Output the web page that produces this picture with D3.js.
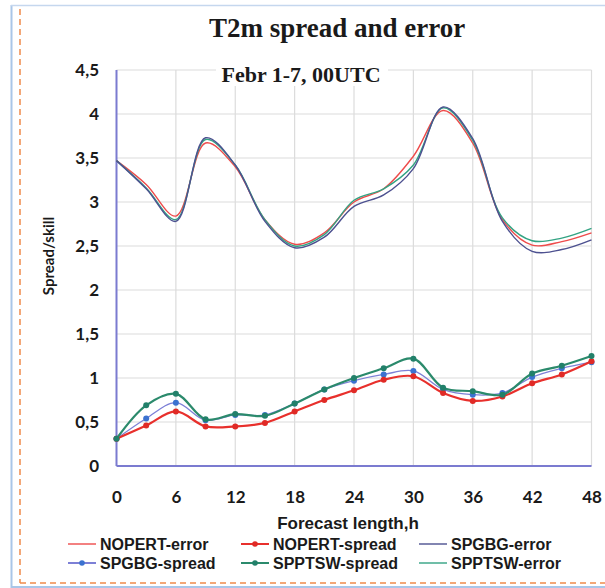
<!DOCTYPE html>
<meta charset="utf-8">
<script src="https://d3js.org/d3.v7.min.js"></script>
<style>
  body { margin: 0; background: #fff; }
  svg text { font-family: Lato, 'Liberation Sans', sans-serif; font-weight: bold; fill: #1a1a1a; }
  .serif { font-family: 'Liberation Serif', 'DejaVu Serif', serif !important; }
  .legend { font-family: 'Liberation Sans', Arial, sans-serif !important; }
</style>
<div id="chart"></div>
<script>

// forecast hours (every 3 h)
var hours = [0, 3, 6, 9, 12, 15, 18, 21, 24, 27, 30, 33, 36, 39, 42, 45, 48];

// error curves
var nopertError = [3.47, 3.20, 2.84, 3.67, 3.40, 2.80, 2.52, 2.65, 3.00, 3.15, 3.52, 4.04, 3.67, 2.80, 2.51, 2.55, 2.65];
var spgbgError  = [3.47, 3.15, 2.78, 3.73, 3.42, 2.78, 2.48, 2.60, 2.95, 3.08, 3.38, 4.08, 3.72, 2.78, 2.44, 2.46, 2.57];
var spptswError = [3.47, 3.16, 2.80, 3.71, 3.42, 2.80, 2.50, 2.63, 3.02, 3.15, 3.42, 4.07, 3.70, 2.82, 2.56, 2.59, 2.70];

// spread curves
var nopertSpread = [0.31, 0.46, 0.62, 0.45, 0.45, 0.49, 0.62, 0.75, 0.86, 0.98, 1.02, 0.83, 0.74, 0.79, 0.94, 1.04, 1.19];
var spgbgSpread  = [0.31, 0.54, 0.72, 0.52, 0.58, 0.58, 0.71, 0.87, 0.97, 1.04, 1.08, 0.87, 0.81, 0.83, 1.01, 1.11, 1.18];
var spptswSpread = [0.31, 0.69, 0.82, 0.53, 0.59, 0.57, 0.71, 0.87, 1.00, 1.11, 1.22, 0.89, 0.85, 0.81, 1.05, 1.14, 1.25];

var xTicks = [0, 6, 12, 18, 24, 30, 36, 42, 48];
var yTicks = [0, 0.5, 1, 1.5, 2, 2.5, 3, 3.5, 4, 4.5];
var yTickLabels = ["0", "0,5", "1", "1,5", "2", "2,5", "3", "3,5", "4", "4,5"];

var W = 605, H = 588;

var svg = d3.select("#chart")
  .append("svg")
    .attr("width", W)
    .attr("height", H);

// outer frame: blue border and orange dashed border
svg.append("line").attr("x1", 11.5).attr("x2", 11.5).attr("y1", 5).attr("y2", 588)
  .attr("stroke", "#a9c6e8").attr("stroke-width", 2);
svg.append("line").attr("x1", 11).attr("x2", 605).attr("y1", 5.5).attr("y2", 5.5)
  .attr("stroke", "#c5d7ee").attr("stroke-width", 1.5);
svg.append("line").attr("x1", 11).attr("x2", 605).attr("y1", 587).attr("y2", 587)
  .attr("stroke", "#a9c6e8").attr("stroke-width", 2);
svg.append("line").attr("x1", 20).attr("x2", 20).attr("y1", 9).attr("y2", 583)
  .attr("stroke", "#f08a4b").attr("stroke-width", 1.5).style("stroke-dasharray", "6,4");
svg.append("line").attr("x1", 20).attr("x2", 605).attr("y1", 583).attr("y2", 583)
  .attr("stroke", "#f08a4b").attr("stroke-width", 1.5).style("stroke-dasharray", "6,4");

// scales
var x = d3.scaleLinear().domain([0, 48]).range([116.5, 591.5]);
var y = d3.scaleLinear().domain([0, 4.5]).range([466, 70]);

// gridlines
svg.append("g")
  .selectAll("line")
  .data(yTicks.slice(1))
  .enter()
  .append("line")
    .attr("x1", x(0)).attr("x2", x(48))
    .attr("y1", function(d){ return y(d) }).attr("y2", function(d){ return y(d) })
    .attr("stroke", "#dcdcdc").attr("stroke-width", 1.2);
svg.append("g")
  .selectAll("line")
  .data(xTicks.slice(1))
  .enter()
  .append("line")
    .attr("x1", function(d){ return x(d) }).attr("x2", function(d){ return x(d) })
    .attr("y1", y(0)).attr("y2", y(4.5))
    .attr("stroke", "#dcdcdc").attr("stroke-width", 1.2);

// axes
var yAxis = svg.append("g")
  .attr("transform", "translate(99,0)")
  .call(d3.axisLeft(y).tickValues(yTicks).tickSize(0)
    .tickFormat(function(d, i){ return yTickLabels[i] }));
yAxis.select(".domain").remove();
yAxis.selectAll("text").attr("x", 0).style("font-size", "17px").style("font-family", "Lato");

var xAxis = svg.append("g")
  .attr("transform", "translate(0,491)")
  .call(d3.axisBottom(x).tickValues(xTicks).tickSize(0));
xAxis.select(".domain").remove();
xAxis.selectAll("text").attr("y", 0).attr("dy", "0.71em").style("font-size", "17px").style("font-family", "Lato");

svg.append("line").attr("x1", x(0)).attr("x2", x(0)).attr("y1", y(4.5)).attr("y2", y(0))
  .attr("stroke", "#7b7bd0").attr("stroke-width", 2);
svg.append("line").attr("x1", x(0)).attr("x2", x(48)).attr("y1", y(0)).attr("y2", y(0))
  .attr("stroke", "#7b7bd0").attr("stroke-width", 2);

// axis titles
svg.append("text")
  .attr("transform", "translate(54,256) rotate(-90)")
  .attr("text-anchor", "middle")
  .style("font-size", "15px")
  .text("Spread/skill");
svg.append("text")
  .attr("class", "legend")
  .attr("x", 348).attr("y", 529)
  .attr("text-anchor", "middle")
  .style("font-size", "17px")
  .text("Forecast length,h");

// titles
svg.append("text")
  .attr("class", "serif")
  .attr("x", 337).attr("y", 37)
  .attr("text-anchor", "middle")
  .style("font-size", "27px")
  .text("T2m spread and error");
svg.append("rect").attr("x", 216).attr("y", 63).attr("width", 172).attr("height", 23).attr("fill", "#fff");
svg.append("text")
  .attr("class", "serif")
  .attr("x", 301).attr("y", 82)
  .attr("text-anchor", "middle")
  .style("font-size", "22px")
  .text("Febr 1-7, 00UTC");

// series
var series = [
  {name: "NOPERT-error",  values: nopertError,  color: "#ee4b4b", width: 1.4, dots: false},
  {name: "SPPTSW-error",  values: spptswError,  color: "#33a383", width: 1.4, dots: false},
  {name: "SPGBG-error",   values: spgbgError,   color: "#4d5190", width: 1.4, dots: false},
  {name: "SPGBG-spread",  values: spgbgSpread,  color: "#7d80d6", width: 1.3, dots: true, dotColor: "#3b72d0"},
  {name: "NOPERT-spread", values: nopertSpread, color: "#e8302c", width: 2.2, dots: true, dotColor: "#e02a26"},
  {name: "SPPTSW-spread", values: spptswSpread, color: "#2b8a6c", width: 2.2, dots: true, dotColor: "#22806a"}
];

var line = d3.line()
  .x(function(d){ return x(d[0]) })
  .y(function(d){ return y(d[1]) })
  .curve(d3.curveCatmullRom.alpha(0.5));

series.forEach(function(s){
  var pts = hours.map(function(h, i){ return [h, s.values[i]] });
  svg.append("path")
    .datum(pts)
    .attr("d", line)
    .attr("fill", "none")
    .attr("stroke", s.color)
    .attr("stroke-width", s.width);
  if (s.dots) {
    svg.append("g")
      .selectAll("circle")
      .data(pts)
      .enter()
      .append("circle")
        .attr("cx", function(d){ return x(d[0]) })
        .attr("cy", function(d){ return y(d[1]) })
        .attr("r", 3)
        .attr("fill", s.dotColor);
  }
});

// legend
var legendOrder = ["NOPERT-error", "NOPERT-spread", "SPGBG-error", "SPGBG-spread", "SPPTSW-spread", "SPPTSW-error"];
var colX = [68, 241, 419];
var rowY = [544, 563];
legendOrder.forEach(function(name, i){
  var s = series.filter(function(d){ return d.name == name })[0];
  var cx = colX[i % 3], cy = rowY[Math.floor(i / 3)];
  svg.append("line")
    .attr("x1", cx).attr("x2", cx + 28).attr("y1", cy).attr("y2", cy)
    .attr("stroke", s.color).attr("stroke-width", s.dots ? 2 : 1.4);
  if (s.dots) {
    svg.append("circle").attr("cx", cx + 14).attr("cy", cy).attr("r", 2.8).attr("fill", s.dotColor);
  }
  svg.append("text")
    .attr("class", "legend")
    .attr("x", cx + 32).attr("y", cy)
    .attr("dy", "0.35em")
    .style("font-size", "16px")
    .text(name);
});

</script>
